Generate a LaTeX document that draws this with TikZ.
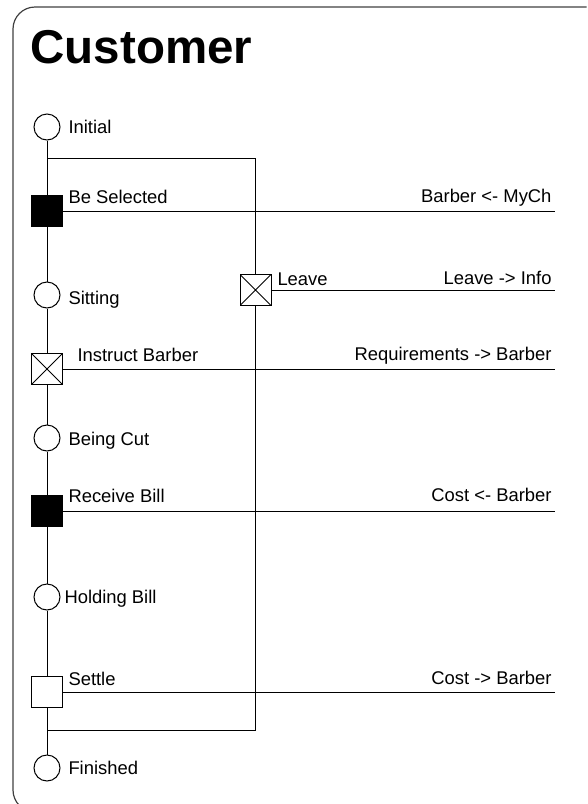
\documentclass[tikz,border=0pt]{standalone}
\usepackage{fontspec}
\setmainfont{Liberation Sans}
\begin{document}
\begin{tikzpicture}[x=1pt,y=-1pt,line width=1pt,
  state/.style={circle,draw,minimum size=26pt,inner sep=0pt},
  sendbox/.style={draw,minimum size=31pt,inner sep=0pt},
  recvbox/.style={draw,fill=black,minimum size=31pt,inner sep=0pt},
  crossbox/.style={draw,minimum size=31pt,inner sep=0pt,
    path picture={\draw[line width=0.8pt] (path picture bounding box.north west) -- (path picture bounding box.south east)
      (path picture bounding box.north east) -- (path picture bounding box.south west);}},
  lbl/.style={anchor=base west,inner sep=0pt,font=\fontsize{18.4}{22}\selectfont},
  rlbl/.style={anchor=base east,inner sep=0pt,font=\fontsize{18.4}{22}\selectfont},
  frame/.style={draw=black!75,line width=1.2pt}]
\useasboundingbox (0,0) rectangle (587,804);
\begin{scope}
  \clip (0,0) rectangle (587,804);
  \draw[frame,rounded corners=22] (586.5,7) -- (13,7) -- (13,812) -- (586.5,812);
\end{scope}
\node[anchor=base west,inner sep=0pt,font=\fontsize{47.5}{50}\selectfont\bfseries] (title) at (30,63.5) {Customer};
% states and events
\node[state] (initial) at (47,127) {};
\node[recvbox] (besel) at (47,211) {};
\node[state] (sitting) at (47,295) {};
\node[crossbox] (instruct) at (47,369) {};
\node[state] (beingcut) at (47,438) {};
\node[recvbox] (recv) at (47,511) {};
\node[state] (holding) at (47,597) {};
\node[sendbox] (settle) at (47,692) {};
\node[state] (finished) at (47,768) {};
\node[crossbox] (leave) at (255.5,290) {};
% main line
\draw (initial) -- (besel) -- (sitting) -- (instruct) -- (beingcut) -- (recv) -- (holding) -- (settle) -- (finished);
% alternative branch
\coordinate (split) at (47,158);
\coordinate (sr) at (255.5,158);
\coordinate (jr) at (255.5,730);
\coordinate (join) at (47,730);
\draw (split) -- (sr) -- (leave);
\draw (leave) -- (jr) -- (join);
% message lines
\coordinate (m1) at (555,211);
\coordinate (m2) at (555,290);
\coordinate (m3) at (555,369);
\coordinate (m4) at (555,511);
\coordinate (m5) at (555,692);
\draw (besel) -- (m1);
\draw (leave) -- (m2);
\draw (instruct) -- (m3);
\draw (recv) -- (m4);
\draw (settle) -- (m5);
% labels
\node[lbl] (tInitial) at (68,133) {Initial};
\node[lbl] (tBeSel) at (68,203) {Be Selected};
\node[lbl] (tLeave) at (277,285) {Leave};
\node[lbl] (tSitting) at (68,304) {Sitting};
\node[lbl] (tInstr) at (77,361.5) {Instruct Barber};
\node[lbl] (tCut) at (68,445) {Being Cut};
\node[lbl] (tRecv) at (68,502) {Receive Bill};
\node[lbl] (tHold) at (64,603) {Holding Bill};
\node[lbl] (tSettle) at (68,685) {Settle};
\node[lbl] (tFin) at (68,774) {Finished};
\node[rlbl] (r1) at (552,202) {Barber <- MyCh};
\node[rlbl] (r2) at (552,284) {Leave -> Info};
\node[rlbl] (r3) at (552,360) {Requirements -> Barber};
\node[rlbl] (r4) at (552,501.5) {Cost <- Barber};
\node[rlbl] (r5) at (552,684) {Cost -> Barber};
\end{tikzpicture}
\end{document}
